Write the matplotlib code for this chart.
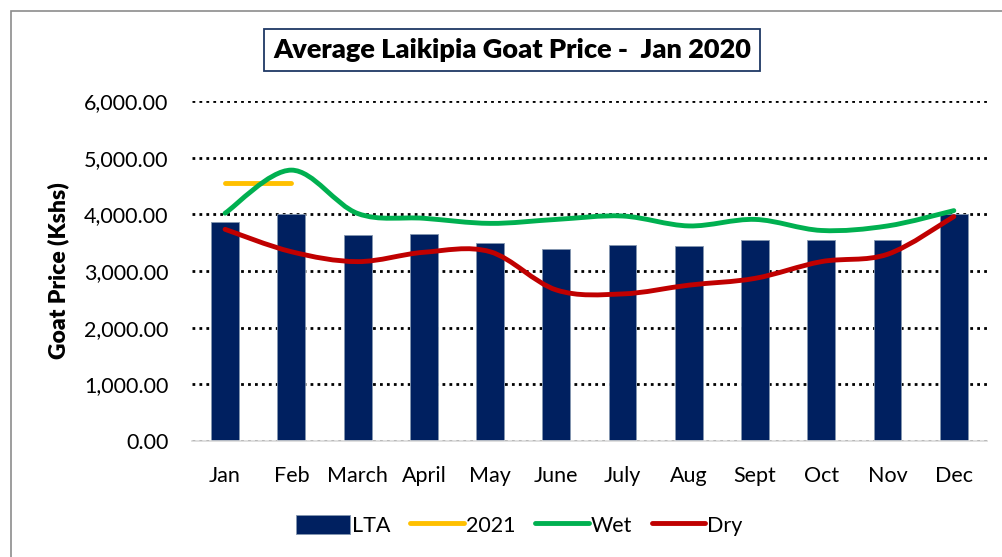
import matplotlib
matplotlib.use("Agg")
import matplotlib.pyplot as plt
import numpy as np
from matplotlib.path import Path
from matplotlib.patches import PathPatch, Rectangle, Patch
from matplotlib.lines import Line2D
from matplotlib.ticker import FuncFormatter

months = ["Jan", "Feb", "March", "April", "May", "June", "July", "Aug", "Sept", "Oct", "Nov", "Dec"]
lta = [3860, 4005, 3630, 3655, 3500, 3395, 3465, 3445, 3555, 3540, 3555, 4010]
y2021 = [4555, 4555]
wet = [4020, 4780, 4015, 3930, 3840, 3910, 3970, 3795, 3910, 3715, 3795, 4065]
dry = [3735, 3340, 3165, 3330, 3340, 2665, 2595, 2750, 2870, 3165, 3295, 3960]

plt.rcParams['font.family'] = ['Lato', 'DejaVu Sans']


def smooth_path(xs, ys):
    # Catmull-Rom style bezier, like Excel's smoothed line
    p = np.column_stack([xs, ys]).astype(float)
    n = len(p)
    verts = [p[0]]
    codes = [Path.MOVETO]
    for i in range(n - 1):
        p0 = p[i - 1] if i > 0 else p[i]
        p3 = p[i + 2] if i + 2 < n else p[i + 1]
        c1 = p[i] + (p[i + 1] - p0) / 6.0
        c2 = p[i + 1] - (p3 - p[i]) / 6.0
        verts += [c1, c2, p[i + 1]]
        codes += [Path.CURVE4] * 3
    return Path(verts, codes)


fig = plt.figure(figsize=(10.03, 5.57), dpi=100)
ax = fig.add_axes([0.1914, 0.2083, 0.7926, 0.6104])

# chart frame
fig.patches.append(Rectangle((11 / 1003, -0.1), 1.2, (557 - 11) / 557 + 0.1,
                             transform=fig.transFigure, fill=False,
                             edgecolor='#8c8c8c', linewidth=1.2))

x = np.arange(len(months))
ax.bar(x, lta, width=0.42, color='#002060', edgecolor='#8497b0', linewidth=0.6, zorder=2)

ax.plot(x[:len(y2021)], y2021, color='#FFC000', linewidth=3.5, solid_capstyle='round', zorder=3)
ax.add_patch(PathPatch(smooth_path(x, wet), facecolor='none', edgecolor='#00B050',
                       linewidth=3.5, capstyle='round', zorder=4))
ax.add_patch(PathPatch(smooth_path(x, dry), facecolor='none', edgecolor='#C00000',
                       linewidth=3.5, capstyle='round', zorder=5))

ax.set_xlim(-0.5, 11.5)
ax.set_ylim(0, 6000)
ax.set_yticks(np.arange(0, 6001, 1000))
ax.yaxis.set_major_formatter(FuncFormatter(lambda v, pos: f"{v:,.2f}"))
ax.set_xticks(x)
ax.set_xticklabels(months)
ax.tick_params(axis='both', length=0, labelsize=15.5, colors='black')
ax.tick_params(axis='x', pad=18)
ax.tick_params(axis='y', pad=17)

ax.yaxis.grid(True, linestyle=(0, (1, 1.5)), color='black', linewidth=2.0, zorder=1)
ax.set_axisbelow(True)
for s in ['top', 'right', 'left']:
    ax.spines[s].set_visible(False)
ax.spines['bottom'].set_color('#d9d9d9')
ax.spines['bottom'].set_linewidth(1.2)

ax.set_ylabel("Goat Price (Kshs)", fontsize=16.5, fontweight='heavy')
ax.yaxis.set_label_coords(-0.155, 0.5)

fig.text(0.5105, 0.910, "Average Laikipia Goat Price -  Jan 2020", ha='center', va='center',
         fontsize=19.5, fontweight='heavy',
         bbox=dict(boxstyle='square,pad=0.33', facecolor='white', edgecolor='#1f3864', linewidth=1.3))

handles = [Patch(facecolor='#002060', edgecolor='#8497b0', linewidth=0.6),
           Line2D([], [], color='#FFC000', linewidth=3.5, solid_capstyle='round'),
           Line2D([], [], color='#00B050', linewidth=3.5, solid_capstyle='round'),
           Line2D([], [], color='#C00000', linewidth=3.5, solid_capstyle='round')]
fig.legend(handles, ["LTA", "2021", "Wet", "Dry"], loc='center', bbox_to_anchor=(0.518, 0.057),
           ncol=4, frameon=False, fontsize=15.5, handlelength=2.5, handleheight=1.0,
           handletextpad=0.1, columnspacing=0.9)

fig.savefig("out.png", dpi=100)
